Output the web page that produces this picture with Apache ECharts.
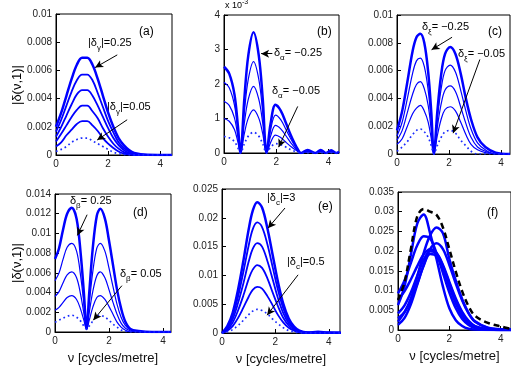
<!DOCTYPE html>
<html>
<head>
<meta charset="utf-8">
<script src="https://cdn.jsdelivr.net/npm/echarts@6/dist/echarts.min.js"></script>
<style>
  html, body { margin: 0; padding: 0; background: #fff; }
  #chart { width: 511px; height: 372px; }
</style>
</head>
<body>
<div id="chart"></div>
<script>
// spatial frequency grids (cycles/metre) for each panel
const nuA = [0, 0.2, 0.4, 0.6, 0.8, 1.0, 1.2, 1.4, 1.6, 1.8, 2.0, 2.2, 2.4, 2.6, 2.8, 3.0, 3.5, 4.45];
const nuB = [0, 0.2, 0.4, 0.53, 0.63, 0.78, 0.93, 1.13, 1.33, 1.48, 1.63, 1.78, 1.97, 2.17, 2.37, 2.57, 2.77, 2.95, 3.2, 3.5, 3.7, 3.9, 4.1, 4.3, 4.4];
const nuC = [0, 0.2, 0.4, 0.6, 0.75, 0.9, 1.05, 1.2, 1.32, 1.42, 1.55, 1.7, 1.85, 2.05, 2.25, 2.45, 2.65, 2.85, 3.1, 3.4, 3.8, 4.35];
const nuD = [0, 0.15, 0.3, 0.45, 0.62, 0.8, 0.95, 1.07, 1.17, 1.27, 1.4, 1.55, 1.68, 1.85, 2.0, 2.15, 2.3, 2.45, 2.6, 2.8, 3.1, 3.6, 4.3];
const nuE = [0, 0.2, 0.4, 0.6, 0.8, 1.0, 1.15, 1.32, 1.5, 1.7, 1.9, 2.1, 2.3, 2.5, 2.7, 2.9, 3.2, 3.6, 4.0, 4.45];
const nuF = [0, 0.25, 0.5, 0.75, 1.0, 1.25, 1.5, 1.75, 2.0, 2.25, 2.5, 2.75, 3.0, 3.5, 4.0, 4.4];

// (a) |delta_gamma|
const a1 = [0.0020, 0.0030, 0.0042, 0.0054, 0.0064, 0.0069, 0.0069, 0.0064, 0.0054, 0.0042, 0.0030, 0.0020, 0.0012, 0.0007, 0.00035, 0.00015, 0.00002, 0];
const a2 = [0.00165, 0.0025, 0.0035, 0.0045, 0.0053, 0.0057, 0.0057, 0.0053, 0.0044, 0.0034, 0.0024, 0.0016, 0.0009, 0.0005, 0.00025, 0.0001, 0.00001, 0];
const a3 = [0.0013, 0.0020, 0.0028, 0.0036, 0.0043, 0.0046, 0.0046, 0.0042, 0.0035, 0.0027, 0.0019, 0.0012, 0.0007, 0.00035, 0.00015, 0.00006, 0, 0];
const a4 = [0.00095, 0.0015, 0.0021, 0.0027, 0.0032, 0.0035, 0.0035, 0.0031, 0.0026, 0.0019, 0.0013, 0.0008, 0.00045, 0.0002, 0.0001, 0.00003, 0, 0];
const a5 = [0.0006, 0.0009, 0.0014, 0.0018, 0.0022, 0.0024, 0.0024, 0.0021, 0.0017, 0.0012, 0.0008, 0.0005, 0.00025, 0.0001, 0.00004, 0, 0, 0];
const a6 = [0.00025, 0.0004, 0.0006, 0.0009, 0.0011, 0.0012, 0.0012, 0.0010, 0.0008, 0.0006, 0.0004, 0.0002, 0.0001, 0.00003, 0, 0, 0, 0];

// (b) delta_alpha, in units of 1e-3
const b1 = [2.5, 2.3, 1.7, 0.8, 0, 1.59, 2.83, 3.5, 2.83, 1.59, 0, 0.84, 1.4, 1.23, 0.87, 0.49, 0.18, 0, 0.09, 0, 0.09, 0, 0.08, 0, 0.04];
const b2 = [2.05, 1.89, 1.39, 0.66, 0, 1.2, 2.14, 2.65, 2.14, 1.2, 0, 0.66, 1.1, 0.97, 0.68, 0.39, 0.14, 0, 0.07, 0, 0.07, 0, 0.06, 0, 0.03];
const b3 = [1.5, 1.38, 1.02, 0.48, 0, 0.88, 1.56, 1.93, 1.56, 0.88, 0, 0.48, 0.8, 0.7, 0.5, 0.28, 0.1, 0, 0.05, 0, 0.05, 0, 0.04, 0, 0.02];
const b4 = [1.0, 0.92, 0.68, 0.32, 0, 0.57, 1.01, 1.25, 1.01, 0.57, 0, 0.3, 0.52, 0.45, 0.31, 0.18, 0.07, 0, 0.03, 0, 0.03, 0, 0.03, 0, 0.01];
const b5 = [0.48, 0.44, 0.33, 0.15, 0, 0.27, 0.49, 0.6, 0.49, 0.27, 0, 0.16, 0.27, 0.24, 0.17, 0.09, 0.03, 0, 0, 0, 0, 0, 0, 0, 0];

// (c) delta_xi
const c1 = [0.0017, 0.0031, 0.0052, 0.0074, 0.0084, 0.00865, 0.008, 0.0059, 0.003, 0, 0.003, 0.0057, 0.0072, 0.0077, 0.0072, 0.0058, 0.004, 0.0025, 0.0012, 0.0005, 0.0001, 0];
const c2 = [0.0013, 0.0023, 0.004, 0.0058, 0.0067, 0.0069, 0.0063, 0.0046, 0.0023, 0, 0.0025, 0.0047, 0.006, 0.0064, 0.0059, 0.0046, 0.0031, 0.0018, 0.0008, 0.0003, 0, 0];
const c3 = [0.001, 0.0017, 0.003, 0.0043, 0.005, 0.0052, 0.0047, 0.0035, 0.0017, 0, 0.0019, 0.0036, 0.0046, 0.0049, 0.0045, 0.0034, 0.0022, 0.0012, 0.0005, 0.0002, 0, 0];
const c4 = [0.0007, 0.0011, 0.002, 0.0029, 0.0033, 0.0035, 0.0031, 0.0023, 0.0011, 0, 0.0013, 0.0025, 0.0032, 0.0034, 0.0031, 0.0023, 0.0014, 0.0007, 0.0003, 0.0001, 0, 0];
const c5 = [0.0002, 0.0005, 0.0009, 0.0014, 0.0017, 0.0018, 0.0016, 0.0012, 0.0006, 0, 0.0006, 0.0012, 0.0016, 0.0017, 0.0015, 0.001, 0.0006, 0.0002, 0, 0, 0, 0];

// (d) delta_beta
const d1 = [0.0074, 0.0085, 0.0104, 0.012, 0.0126, 0.0115, 0.008, 0.004, 0.0003, 0.004, 0.0085, 0.0118, 0.0125, 0.0115, 0.0093, 0.0068, 0.0043, 0.0024, 0.0011, 0.0003, 0.0001, 0, 0];
const d2 = [0.0052, 0.006, 0.0074, 0.0086, 0.009, 0.0082, 0.0057, 0.0029, 0.0003, 0.0029, 0.0061, 0.0085, 0.009, 0.0082, 0.0065, 0.0046, 0.0028, 0.0015, 0.0007, 0.0002, 0, 0, 0];
const d3 = [0.0036, 0.0041, 0.005, 0.0058, 0.0061, 0.0055, 0.0038, 0.0019, 0.0003, 0.002, 0.0041, 0.0057, 0.0061, 0.0055, 0.0043, 0.003, 0.0018, 0.0009, 0.0004, 0.0001, 0, 0, 0];
const d4 = [0.0022, 0.0025, 0.003, 0.0035, 0.0037, 0.0033, 0.0023, 0.0012, 0.0003, 0.0012, 0.0025, 0.0035, 0.0037, 0.0033, 0.0026, 0.0018, 0.001, 0.0005, 0.0002, 0, 0, 0, 0];
const d5 = [0.001, 0.0012, 0.0014, 0.0016, 0.0017, 0.0015, 0.0011, 0.0006, 0.0003, 0.0006, 0.0011, 0.0016, 0.0017, 0.0015, 0.0012, 0.0008, 0.0005, 0.0002, 0.0001, 0, 0, 0, 0];

// (e) |delta_c|
const e1 = [0, 0.0012, 0.0035, 0.0075, 0.0125, 0.018, 0.0212, 0.0227, 0.0218, 0.0182, 0.0135, 0.0088, 0.005, 0.0025, 0.0011, 0.0004, 0.0001, 0.0002, 0.0001, 0.0001];
const e2 = [0, 0.001, 0.003, 0.0063, 0.0106, 0.0152, 0.018, 0.0192, 0.0184, 0.0154, 0.0114, 0.0074, 0.0042, 0.0021, 0.0009, 0.0003, 0.0001, 0.0001, 0.0001, 0];
const e3 = [0, 0.0008, 0.0024, 0.0052, 0.0086, 0.0124, 0.0146, 0.0156, 0.015, 0.0125, 0.0093, 0.006, 0.0034, 0.0017, 0.0008, 0.0003, 0.0001, 0, 0, 0];
const e4 = [0, 0.0006, 0.0018, 0.0039, 0.0065, 0.0094, 0.011, 0.0118, 0.0113, 0.0095, 0.007, 0.0046, 0.0026, 0.0013, 0.0006, 0.0002, 0, 0, 0, 0];
const e5 = [0, 0.0004, 0.0012, 0.0026, 0.0044, 0.0063, 0.0075, 0.008, 0.0077, 0.0064, 0.0048, 0.0031, 0.0018, 0.0009, 0.0004, 0.0001, 0, 0, 0, 0];
const e6 = [0, 0.0002, 0.0006, 0.0013, 0.0022, 0.0032, 0.0038, 0.0041, 0.0039, 0.0033, 0.0024, 0.0016, 0.0009, 0.0004, 0.0002, 0, 0, 0, 0, 0];

// (f) combined cases + envelope
const f1 = [0.0063, 0.011, 0.019, 0.027, 0.0293, 0.0245, 0.018, 0.011, 0.0055, 0.0025, 0.001, 0.0003, 0.0001, 0, 0, 0];
const f2 = [0.0021, 0.0045, 0.008, 0.0135, 0.0195, 0.024, 0.026, 0.0245, 0.018, 0.0125, 0.0078, 0.0043, 0.0022, 0.0006, 0.0002, 0.0001];
const f3 = [0.0093, 0.0125, 0.017, 0.0215, 0.0238, 0.0232, 0.0195, 0.0145, 0.0095, 0.0055, 0.0028, 0.0013, 0.0005, 0.0001, 0, 0];
const f4 = [0.0013, 0.003, 0.0065, 0.0115, 0.0165, 0.0205, 0.022, 0.0205, 0.0165, 0.0118, 0.0075, 0.0042, 0.0021, 0.0005, 0.0001, 0];
const f5 = [0.0076, 0.0098, 0.0128, 0.0162, 0.0192, 0.0205, 0.0195, 0.0162, 0.0118, 0.0076, 0.0043, 0.0021, 0.0009, 0.0002, 0, 0];
const f6 = [0.0042, 0.0062, 0.0095, 0.0138, 0.0178, 0.02, 0.0195, 0.0165, 0.0122, 0.008, 0.0046, 0.0023, 0.001, 0.0002, 0, 0];
const f7 = [0.003, 0.0045, 0.0075, 0.0118, 0.0163, 0.0193, 0.0188, 0.0155, 0.011, 0.0068, 0.0036, 0.0017, 0.0007, 0.0001, 0, 0];
const fEnv = [0.0076, 0.012, 0.0205, 0.0288, 0.0307, 0.03, 0.0292, 0.026, 0.0205, 0.0148, 0.0098, 0.006, 0.0036, 0.0018, 0.0009, 0.0003];

const FONT = '"Liberation Sans", Arial, sans-serif';
const BLUE = '#0000ff';

const panels = [
  { rect: { left: 56, top: 14, width: 116, height: 141 }, xmax: 4.45, ymax: 0.01, yint: 0.002, nu: nuA,
    solid: [a1, a2, a3, a4, a5], dotted: a6, w0: 2.5, w1: 1.8,
    arrows: [[[2.35, 0.0071], [1.5, 0.0062]], [[2.73, 0.0025], [1.58, 0.00106]]] },
  { rect: { left: 224, top: 15, width: 115, height: 138 }, xmax: 4.4, ymax: 4, yint: 1, nu: nuB,
    solid: [b1, b2, b3, b4], dotted: b5, w0: 2.5, w1: 1.2,
    arrows: [[[1.85, 2.88], [1.42, 2.88]], [[2.82, 1.35], [2.09, 0.17]]] },
  { rect: { left: 397, top: 15, width: 113, height: 139 }, xmax: 4.35, ymax: 0.01, yint: 0.002, nu: nuC,
    solid: [c1, c2, c3, c4], dotted: c5, w0: 2.5, w1: 1.2,
    arrows: [[[2.12, 0.0084], [1.33, 0.0075]], [[3.19, 0.0068], [2.16, 0.0015]]] },
  { rect: { left: 55, top: 194, width: 116, height: 138 }, xmax: 4.3, ymax: 0.014, yint: 0.002, nu: nuD,
    solid: [d1, d2, d3, d4], dotted: d5, w0: 2.5, w1: 1.2,
    arrows: [[[1.19, 0.0119], [0.83, 0.0098]], [[2.48, 0.0047], [1.42, 0.0012]]] },
  { rect: { left: 222, top: 189, width: 118, height: 144 }, xmax: 4.42, ymax: 0.025, yint: 0.005, nu: nuE,
    solid: [e1, e2, e3, e4, e5], dotted: e6, w0: 2.5, w1: 1.8,
    arrows: [[[2.36, 0.0217], [1.72, 0.0182]], [[2.85, 0.0101], [1.69, 0.0031]]] },
  { rect: { left: 398, top: 192, width: 117, height: 138 }, xmax: 4.4, ymax: 0.035, yint: 0.005, nu: nuF,
    solid: [f1, f2, f3, f4, f5, f6, f7], envelope: fEnv, w0: 2.5, w1: 2.5, arrows: [] }
];

function pts(nu, vals) { return nu.map((x, i) => [x, vals[i]]); }

const grids = [], xAxes = [], yAxes = [], series = [];
panels.forEach((p, i) => {
  grids.push(Object.assign({ show: true, borderColor: '#000', borderWidth: 1, backgroundColor: 'transparent' }, p.rect));
  const bottomRow = i >= 3;
  xAxes.push({
    type: 'value', gridIndex: i, min: 0, max: p.xmax, interval: 2,
    axisLine: { show: true, onZero: false, lineStyle: { color: '#000', width: 1 } },
    axisTick: { inside: true, length: 4, lineStyle: { color: '#000' } },
    axisLabel: { color: '#222', fontSize: 10, fontFamily: FONT, margin: 4, showMaxLabel: false },
    splitLine: { show: false },
    name: bottomRow ? 'ν [cycles/metre]' : '',
    nameLocation: 'middle', nameGap: 20,
    nameTextStyle: { color: '#111', fontSize: 13, fontFamily: FONT }
  });
  yAxes.push({
    type: 'value', gridIndex: i, min: 0, max: p.ymax, interval: p.yint,
    axisLine: { show: true, lineStyle: { color: '#000', width: 1 } },
    axisTick: { inside: true, length: 4, lineStyle: { color: '#000' } },
    axisLabel: { color: '#222', fontSize: 10, fontFamily: FONT, margin: 4 },
    splitLine: { show: false }
  });
  p.solid.forEach((vals, k) => {
    const s = {
      type: 'line', xAxisIndex: i, yAxisIndex: i, data: pts(p.nu, vals),
      showSymbol: false, smooth: 0.35, animation: false, silent: true,
      lineStyle: { color: BLUE, width: k === 0 ? p.w0 : p.w1 }
    };
    if (k === 0 && p.arrows.length) {
      s.markLine = {
        silent: true, animation: false, symbol: ['none', 'arrow'], symbolSize: [6, 8],
        label: { show: false },
        lineStyle: { color: '#000', width: 1, type: 'solid' },
        data: p.arrows.map(a => [{ coord: a[0] }, { coord: a[1] }])
      };
    }
    series.push(s);
  });
  if (p.dotted) {
    series.push({
      type: 'line', xAxisIndex: i, yAxisIndex: i, data: pts(p.nu, p.dotted),
      showSymbol: false, smooth: 0.35, animation: false, silent: true,
      lineStyle: { color: '#1a2cff', width: 1.7, type: [1.7, 3] }
    });
  }
  if (p.envelope) {
    series.push({
      type: 'line', xAxisIndex: i, yAxisIndex: i, data: pts(p.nu, p.envelope),
      showSymbol: false, smooth: 0.35, animation: false, silent: true, z: 5,
      lineStyle: { color: '#000', width: 2.5, type: [6, 4] }
    });
  }
});

const rich = {
  s: { fontSize: 8, fontFamily: FONT, padding: [9, 0, 0, 0] },
  p: { fontSize: 7, fontFamily: FONT, padding: [0, 0, 8, 0] }
};
function txt(x, y, str, size) {
  return {
    type: 'text', x: x, y: y, silent: true,
    style: { text: str, fill: '#000', fontSize: size || 11, fontFamily: FONT,
      verticalAlign: 'middle', align: 'left', rich: rich }
  };
}
function ylab(x, y) {
  return {
    type: 'text', x: x, y: y, rotation: Math.PI / 2, silent: true,
    style: { text: '|δ(ν,1)|', fill: '#000', fontSize: 13, fontFamily: FONT,
      align: 'center', verticalAlign: 'middle' }
  };
}

const graphic = [
  txt(139, 32, '(a)', 12), txt(88, 43, '|δ{s|γ}|=0.25'), txt(107, 107, '|δ{s|γ}|=0.05'),
  txt(317, 32, '(b)', 12), txt(274, 53, 'δ{s|α}= −0.25'), txt(272, 91, 'δ{s|α}= −0.05'),
  txt(225, 6, 'x 10{p|-3}', 9),
  txt(488, 32, '(c)', 12), txt(422, 27, 'δ{s|ξ}= −0.25'), txt(458, 54, 'δ{s|ξ}= −0.05'),
  txt(133, 213, '(d)', 12), txt(70, 201, 'δ{s|β}= 0.25'), txt(120, 274, 'δ{s|β}= 0.05'),
  txt(318, 207, '(e)', 12), txt(267, 198, '|δ{s|c}|=3'), txt(287, 262, '|δ{s|c}|=0.5'),
  txt(487, 213, '(f)', 12),
  ylab(17, 85), ylab(17, 263)
];

const chart = echarts.init(document.getElementById('chart'), null, { renderer: 'canvas' });
chart.setOption({
  backgroundColor: '#fff',
  animation: false,
  grid: grids,
  xAxis: xAxes,
  yAxis: yAxes,
  series: series,
  graphic: graphic
});
</script>
</body>
</html>
